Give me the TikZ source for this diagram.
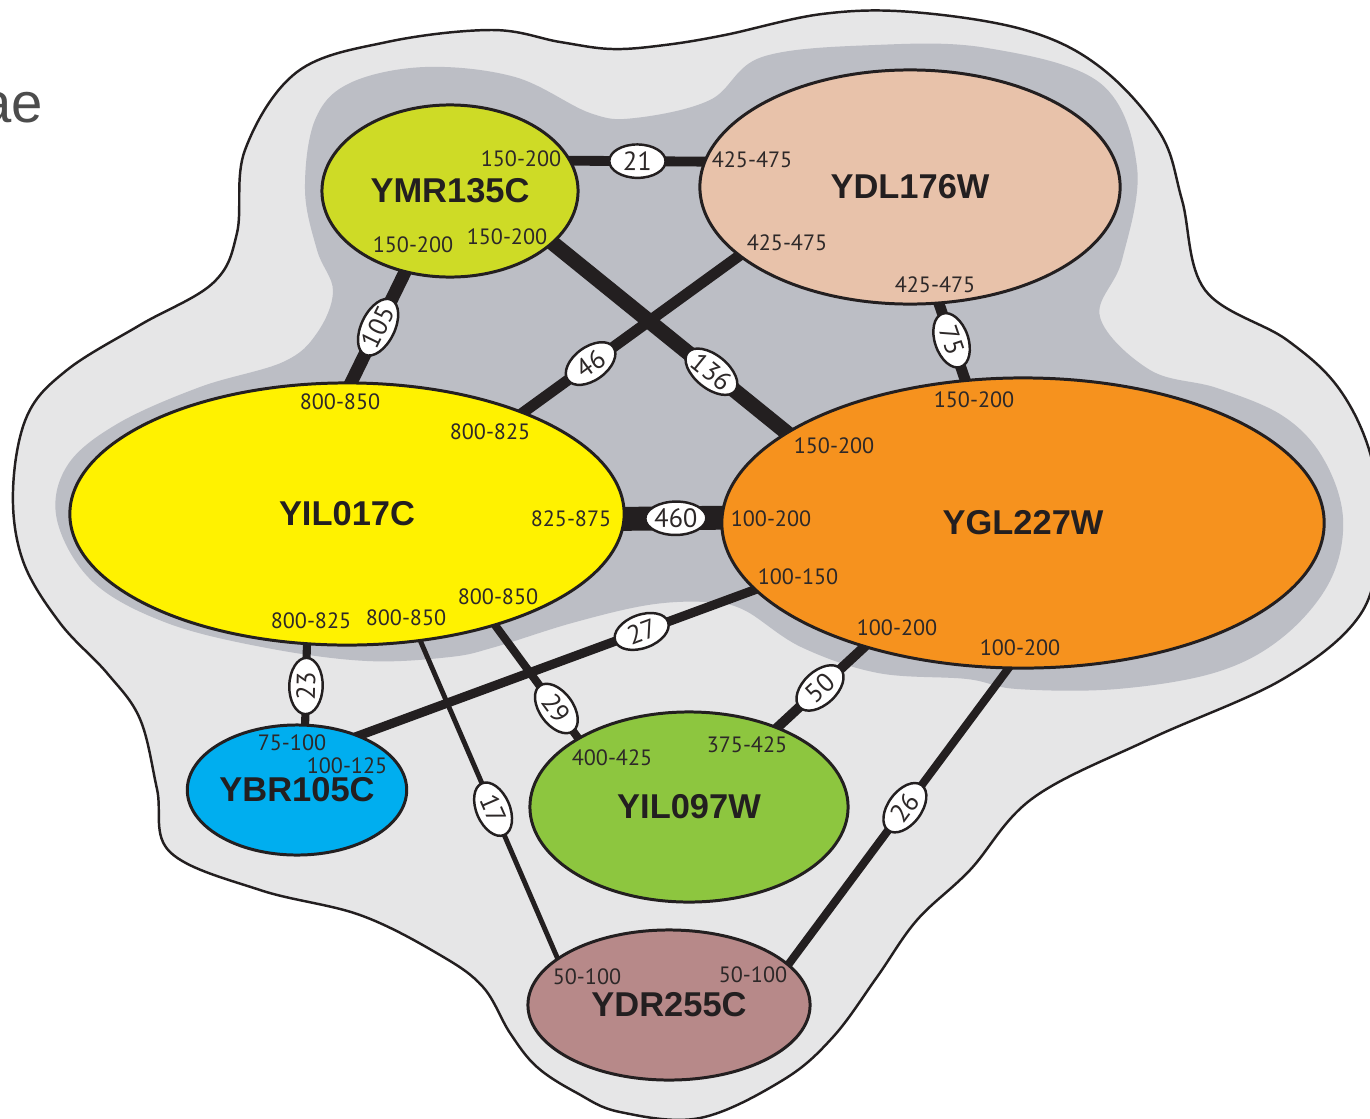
\documentclass[tikz,border=0pt]{standalone}
\usepackage{fontspec}
\setmainfont{Liberation Sans}
\newfontfamily\rangefont{PT Sans}
\usetikzlibrary{shapes.geometric,backgrounds}
\definecolor{linec}{RGB}{35,31,32}
\definecolor{rangec}{RGB}{45,40,40}
\definecolor{outerc}{RGB}{230,230,231}
\definecolor{innerc}{RGB}{188,190,197}
\definecolor{ymrc}{RGB}{206,219,38}
\definecolor{ydlc}{RGB}{232,194,170}
\definecolor{yilc}{RGB}{255,242,0}
\definecolor{yglc}{RGB}{246,146,30}
\definecolor{ybrc}{RGB}{0,174,239}
\definecolor{yilwc}{RGB}{141,198,63}
\definecolor{ydrc}{RGB}{183,137,137}
\begin{document}
\begin{tikzpicture}[x=0.01cm,y=-0.01cm,
    gene/.style={ellipse,draw=linec,line width=0.85pt,inner sep=0pt,text=linec,
      font=\fontsize{9.8}{10}\selectfont\bfseries},
    rng/.style={inner sep=0pt,text=rangec,font=\rangefont\fontsize{6.3}{7}\selectfont},
    num/.style={ellipse,draw=linec,fill=white,line width=0.7pt,inner sep=0pt,
      minimum width=16pt,minimum height=9.5pt,sloped,text=rangec,
      font=\rangefont\fontsize{7.5}{8}\selectfont},
    link/.style={draw=linec,shorten <=-2pt,shorten >=-2pt}]
  \useasboundingbox (0,0) rectangle (1370,1118);
  \node[anchor=base east,inner sep=0pt,text=black!70,font=\fontsize{16}{18}\selectfont] (ae) at (44,122) {ae};
  % genes
  \node[gene,fill=ymrc,minimum width=2.56cm,minimum height=1.72cm] (ymr) at (450,191) {YMR135C};
  \node[gene,fill=ydlc,minimum width=4.2cm,minimum height=2.34cm] (ydl) at (910,187) {YDL176W};
  \node[gene,fill=yilc,minimum width=5.54cm,minimum height=2.62cm] (yil) at (347,514) {YIL017C};
  \node[gene,fill=yglc,minimum width=6.02cm,minimum height=2.9cm] (ygl) at (1023,523) {YGL227W};
  \node[gene,fill=ybrc,minimum width=2.18cm,minimum height=1.3cm] (ybr) at (297,790) {YBR105C};
  \node[gene,fill=yilwc,minimum width=3.18cm,minimum height=1.9cm] (yilw) at (689,807) {YIL097W};
  \node[gene,fill=ydrc,minimum width=2.82cm,minimum height=1.5cm] (ydr) at (669,1005) {YDR255C};
  % ranges
  \node[rng] (ymra) at (521,159) {150-200};
  \node[rng] (ymrb) at (413,245) {150-200};
  \node[rng] (ymrc) at (507,237) {150-200};
  \node[rng] (ydla) at (752,160) {425-475};
  \node[rng] (ydlb) at (787,243) {425-475};
  \node[rng] (ydlc) at (935,285) {425-475};
  \node[rng] (yila) at (340,402) {800-850};
  \node[rng] (yilb) at (490,432) {800-825};
  \node[rng] (yilc) at (571,519) {825-875};
  \node[rng] (yild) at (498,597) {800-850};
  \node[rng] (yile) at (311,621) {800-825};
  \node[rng] (yilf) at (406,618) {800-850};
  \node[rng] (ygla) at (974,400) {150-200};
  \node[rng] (yglb) at (834,446) {150-200};
  \node[rng] (yglc) at (771,519) {100-200};
  \node[rng] (ygld) at (798,577) {100-150};
  \node[rng] (ygle) at (897,628) {100-200};
  \node[rng] (yglf) at (1020,648) {100-200};
  \node[rng] (ybra) at (292,743) {75-100};
  \node[rng] (ybrb) at (347,766) {100-125};
  \node[rng] (yilwa) at (612,758) {400-425};
  \node[rng] (yilwb) at (747,745) {375-425};
  \node[rng] (ydra) at (587,977) {50-100};
  \node[rng] (ydrb) at (753,975) {50-100};
  \begin{pgfonlayer}{background}
    % grey areas
    \draw[fill=outerc,draw=linec,line width=0.7pt] plot[smooth cycle,tension=0.6] coordinates {
      (245,150) (297,72) (387,42) (492,30) (560,42) (612,49) (665,45) (725,35)
      (822,14) (912,12) (1025,30) (1100,67) (1160,133) (1182,200) (1205,290)
      (1287,340) (1340,390) (1372,460) (1378,540) (1360,615) (1283,679) (1150,739)
      (1033,798) (970,870) (917,920) (877,977) (833,1037) (783,1080) (700,1118)
      (620,1112) (577,1093) (537,1067) (510,1033) (483,987) (440,955) (360,915)
      (260,890) (170,852) (157,789) (140,719) (107,673) (60,623) (23,561)
      (13,491) (27,416) (67,370) (140,325) (213,283) (237,233)};
    \fill[innerc] plot[smooth cycle,tension=0.6] coordinates {
      (305,190) (315,120) (350,83) (425,67) (515,77) (590,113) (635,118) (710,100)
      (762,57) (875,45) (987,48) (1100,83) (1137,167) (1122,260) (1100,317)
      (1150,370) (1217,388) (1283,416) (1323,458) (1343,518) (1330,581) (1283,637)
      (1217,672) (1117,689) (1017,689) (967,679) (878,673) (801,647) (744,610)
      (706,602) (648,605) (572,623) (495,647) (450,657) (367,661) (267,648)
      (167,623) (93,582) (57,520) (67,466) (117,424) (200,387) (283,362)
      (317,333) (333,291) (317,250)};
    % links
    \draw (ymr.14) edge[link,line width=2.8pt] node[num] {21} (ydl.173);
    \draw (yil.88) edge[link,line width=3.7pt] node[num] {105} (ymr.-119);
    \draw (ymr.-27) edge[link,line width=4.3pt] node[num,pos=.68] {136} (ygl.159);
    \draw (yil.30) edge[link,line width=3.1pt] node[num,pos=.31] {46} (ydl.-158);
    \draw (ydl.-76) edge[link,line width=3.1pt] node[num,pos=.48] {75} (ygl.112);
    \draw (yil.-1) edge[link,line width=6.8pt] node[num,pos=.53] {460} (ygl.179);
    \draw (ybr.83) edge[link,line width=2.3pt] node[num,pos=.48] {23} (yil.-107);
    \draw (yil.-60) edge[link,line width=1.4pt] node[num,pos=.53] {17} (ydr.157);
    \draw (ybr.41) edge[link,line width=2.6pt] node[num,pos=.715] {27} (ygl.-166);
    \draw (yil.-37) edge[link,line width=2.3pt] node[num,pos=.74] {29} (yilw.148);
    \draw (yilw.42) edge[link,line width=2.8pt] node[num,pos=.49] {50} (ygl.-142);
    \draw (ydr.19) edge[link,line width=2.3pt] node[num,pos=.53] {26} (ygl.-96);
  \end{pgfonlayer}
\end{tikzpicture}
\end{document}
